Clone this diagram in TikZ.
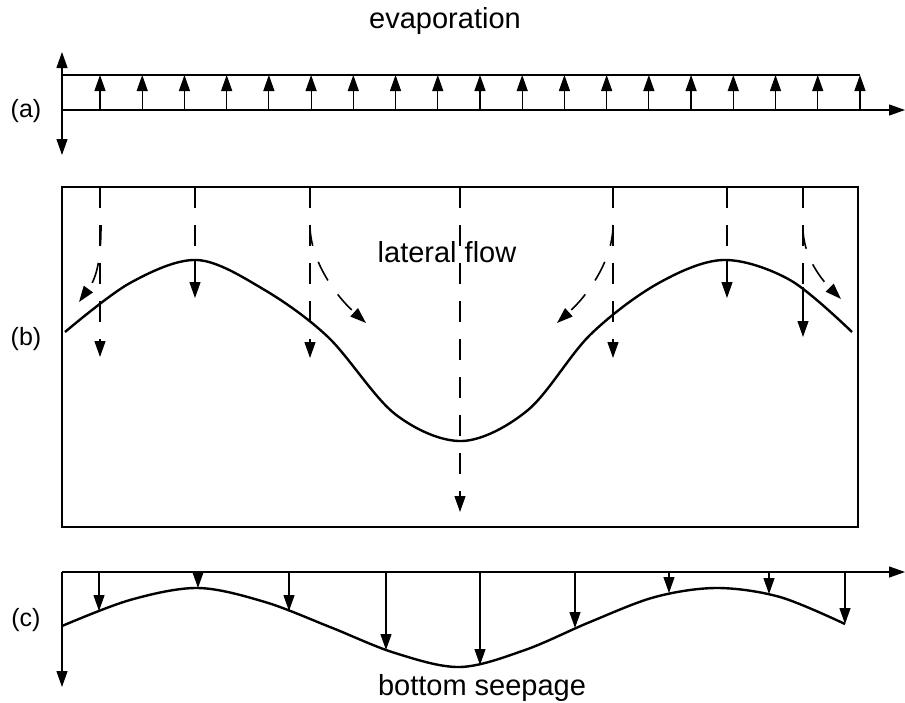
\documentclass[tikz,border=0pt]{standalone}
\usepackage{fontspec}
\setmainfont{Liberation Sans}
\usepackage{tikz}
\usetikzlibrary{arrows.meta}
\tikzset{
  ponta/.tip={Triangle[width=11pt,length=16pt]},
  eixo/.style={line width=1.2pt},
  fluxo/.style={line width=1.2pt, -ponta},
  tracejado/.style={line width=1.2pt, dash pattern=on 21pt off 17pt},
  dfluxo/.style={tracejado, -ponta},
  curvo/.style={dfluxo, line width=1.6pt},
  superficie/.style={line width=2.4pt, line join=round},
  rotulo/.style={font=\fontsize{29}{34}\selectfont, anchor=base},
  painel/.style={font=\fontsize{25}{30}\selectfont, anchor=base},
}
\begin{document}
\begin{tikzpicture}[x=1pt, y=-1pt]
  \useasboundingbox (0,0) rectangle (905,702);
  % (a) evaporation
  \node[rotulo] (evap) at (445,28) {evaporation};
  \node[painel] (tagA) at (26,117) {(a)};
  \draw[eixo, ponta-ponta] (62,52) -- (62,155);
  \draw[eixo, -ponta] (62,110) -- (905,110);
  \draw[eixo] (62,75) -- (860,75);
  \foreach \i in {0,...,18}
    \draw[fluxo] ({100+42.22*\i},110) -- ({100+42.22*\i},75);
  % (b) lateral flow
  \node[painel] (tagB) at (26,345) {(b)};
  \draw[eixo] (62,187) rectangle (858,527);
  \draw[superficie] plot[smooth, tension=0.55] coordinates {
    (65,332) (130,283) (197,260) (263,289) (328,337) (395,414) (462,441)
    (528,410) (590,335) (657,284) (723,260) (790,280) (852,332)};
  \node[rotulo] (lateral) at (447,262) {lateral flow};
  \foreach \x/\y in {100/357, 310/358, 460/512, 613/358}
    \draw[dfluxo] (\x,187) -- (\x,\y);
  \foreach \x/\ys/\y in {195/260/298, 727/260/298, 803/287/337} {
    \draw[tracejado] (\x,187) -- (\x,\ys);
    \draw[fluxo] (\x,\ys) -- (\x,\y);
  }
  \draw[curvo] (101,225) .. controls (101,265) and (95,280) .. (79,302);
  \draw[curvo] (310,225) .. controls (310,260) and (335,295) .. (366,323);
  \draw[curvo] (613,225) .. controls (613,260) and (588,295) .. (557,323);
  \draw[curvo] (803,228) .. controls (803,255) and (820,278) .. (841,299);
  % (c) bottom seepage
  \node[painel] (tagC) at (26,626) {(c)};
  \draw[eixo, -ponta] (62,572) -- (905,572);
  \draw[eixo, -ponta] (62,572) -- (62,687);
  \draw[superficie] plot[smooth, tension=0.55] coordinates {
    (62,626) (130,600) (198,588) (265,602) (330,627) (395,653) (460,667)
    (525,650) (590,622) (655,597) (717,588) (780,597) (845,624)};
  \foreach \x/\y in {99/611, 198/588, 289/611, 386/650, 480/665, 575/628, 669/593, 769/594, 845/624}
    \draw[fluxo] (\x,572) -- (\x,\y);
  \node[rotulo] (seepage) at (482,695) {bottom seepage};
\end{tikzpicture}
\end{document}
